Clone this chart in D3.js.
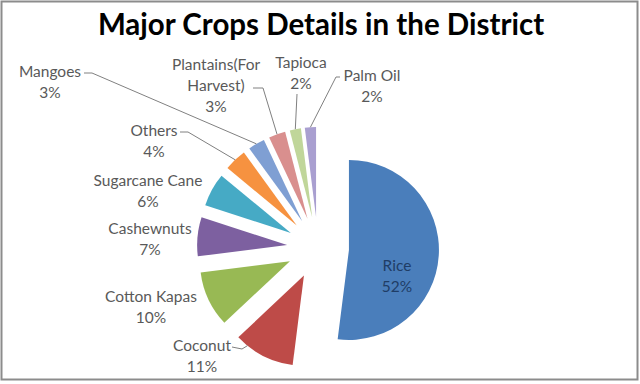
<!DOCTYPE html>
<html>
<head>
<meta charset="utf-8">
<script src="https://cdn.jsdelivr.net/npm/d3@7"></script>
<style>
  body { margin: 0; background: #fff; }
  svg { display: block; }
</style>
</head>
<body>
<script>
// Data (percent share of each crop)
const crops = ["Rice", "Coconut", "Cotton Kapas", "Cashewnuts", "Sugarcane Cane",
               "Others", "Mangoes", "Plantains(For Harvest)", "Tapioca", "Palm Oil"];
const shares = [52, 11, 10, 7, 6, 4, 3, 3, 2, 2];
const colors = ["#4a7ebb", "#be4b48", "#98b954", "#7d60a0", "#46aac5",
                "#f69240", "#7f9fd3", "#d98f8e", "#c0d69a", "#a99fd0"];
// how the data labels wrap
const labelLines = [["Rice"], ["Coconut"], ["Cotton Kapas"], ["Cashewnuts"], ["Sugarcane Cane"],
                    ["Others"], ["Mangoes"], ["Plantains(For", "Harvest)"], ["Tapioca"], ["Palm Oil"]];

// Layout stuff (where Excel dropped the labels)
const labelPos = [[397, 271], [202, 351], [151, 302], [150, 234], [148, 186],
                  [154, 136], [50, 77], [216, 70], [301, 68], [372, 81]];
// leader line points on the label side, null = no leader. second value = where on the arc it lands (0..1)
const leaders = [null, [[[232, 347], [242, 349]], 0.8], null, null, null,
                 [[[180, 132], [188, 132]], 0.5], [[[84, 73], [92, 73]], 0.5],
                 [[[253, 88], [263, 88]], 0.5], [[[297, 94]], 0.5], [[[340, 77], [336, 77]], 0.5]];

const width = 640, height = 384;
const cx = 318, cy = 248, radius = 90, explode = 31;

const svg = d3.select("body").append("svg").attr("width", width).attr("height", height);

svg.append("rect").attr("x", 1.5).attr("y", 1.5).attr("width", 636).attr("height", 378)
  .attr("fill", "#fff").attr("stroke", "#8c8c8c").attr("stroke-width", 2);

svg.append("text").attr("x", 321).attr("y", 35)
  .attr("text-anchor", "middle")
  .style("font-family", "Lato, sans-serif").style("font-weight", "bold").style("font-size", "29.5px")
  .attr("fill", "#000").text("Major Crops Details in the District");

const pie = d3.pie().sort(null).value(d => d)(shares);
const arc = d3.arc().innerRadius(0).outerRadius(radius);

// offset of an exploded slice
const shift = (p) => {
  const mid = (p.startAngle + p.endAngle) / 2;
  return [explode * Math.sin(mid), -explode * Math.cos(mid)];
};

const g = svg.append("g").attr("transform", `translate(${cx},${cy})`);

g.selectAll("path.slice")
  .data(pie)
  .enter()
  .append("path")
  .attr("class", "slice")
  .attr("transform", d => `translate(${shift(d)})`)
  .attr("d", arc)
  .attr("fill", (d, i) => colors[i]);

// leader lines
pie.forEach((p, i) => {
  if (!leaders[i]) return;
  const [pts, frac] = leaders[i];
  const a = p.startAngle + (p.endAngle - p.startAngle) * frac;
  const [sx, sy] = shift(p);
  const end = [cx + sx + radius * Math.sin(a), cy + sy - radius * Math.cos(a)];
  svg.append("path")
    .attr("d", d3.line()(pts.concat([end])))
    .attr("fill", "none").attr("stroke", "#808080").attr("stroke-width", 1);
});

// data labels
const labels = svg.selectAll("text.lbl")
  .data(pie)
  .enter()
  .append("text")
  .attr("class", "lbl")
  .attr("text-anchor", "middle")
  .style("font-family", "Lato, sans-serif").style("font-size", "15.5px")
  .attr("fill", (d, i) => i === 0 ? "#1f3d66" : "#595959");

labels.each(function (d, i) {
  const t = d3.select(this);
  const lines = labelLines[i].concat([d.data + "%"]);
  lines.forEach((s, k) => {
    t.append("tspan").attr("x", labelPos[i][0]).attr("y", labelPos[i][1] + k * 21).text(s);
  });
});
</script>
</body>
</html>
